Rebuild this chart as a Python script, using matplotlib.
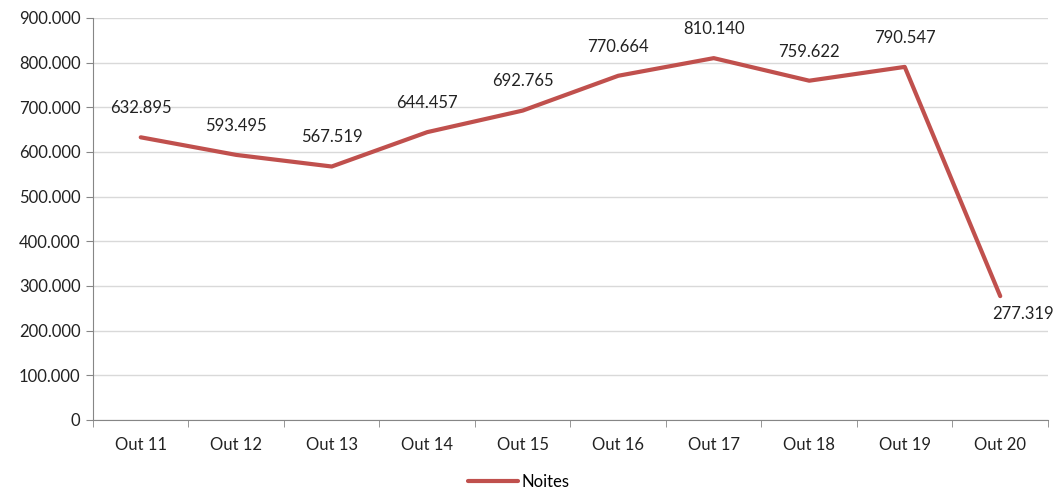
import matplotlib.pyplot as plt
from matplotlib.ticker import FuncFormatter

months = ['Out 11', 'Out 12', 'Out 13', 'Out 14', 'Out 15',
          'Out 16', 'Out 17', 'Out 18', 'Out 19', 'Out 20']
noites = [632895, 593495, 567519, 644457, 692765,
          770664, 810140, 759622, 790547, 277319]

plt.rcParams['font.family'] = ['Lato', 'DejaVu Sans']


def fmt(v):
    return f"{int(v):,}".replace(',', '.')


fig = plt.figure(figsize=(10.59, 5.0), dpi=100)
ax = fig.add_axes([0.0878, 0.16, 0.9018, 0.804])

x = list(range(len(months)))
ax.plot(x, noites, color='#C0504D', lw=3, solid_capstyle='round', label='Noites')

for i, v in enumerate(noites):
    if i == len(noites) - 1:
        ax.annotate(fmt(v), (i, v), xytext=(-6, -13), textcoords='offset points',
                    ha='left', va='center', fontsize=12, color='#222222')
    else:
        ax.annotate(fmt(v), (i, v), xytext=(0, 21), textcoords='offset points',
                    ha='center', va='center', fontsize=12, color='#222222')

ax.set_xlim(-0.5, len(months) - 0.5)
ax.set_ylim(0, 900000)
ax.set_yticks(range(0, 900001, 100000))
ax.yaxis.set_major_formatter(FuncFormatter(lambda v, p: fmt(v)))
ax.set_xticks(x)
ax.set_xticklabels(months)
ax.set_xticks([i - 0.5 for i in range(len(months) + 1)], minor=True)
ax.tick_params(axis='x', which='major', length=0, pad=12, labelsize=12, colors='#222222')
ax.tick_params(axis='x', which='minor', length=5, color='#868686')
ax.tick_params(axis='y', length=5, color='#868686', labelsize=12, colors='#222222', pad=4)

ax.grid(axis='y', color='#D9D9D9', lw=1)
ax.set_axisbelow(True)
for s in ['top', 'right']:
    ax.spines[s].set_visible(False)
for s in ['left', 'bottom']:
    ax.spines[s].set_color('#868686')

fig.legend(loc='lower center', bbox_to_anchor=(0.49, -0.01), frameon=False,
           fontsize=12, handlelength=3, handletextpad=0.2)

fig.savefig('out.png', dpi=100)
